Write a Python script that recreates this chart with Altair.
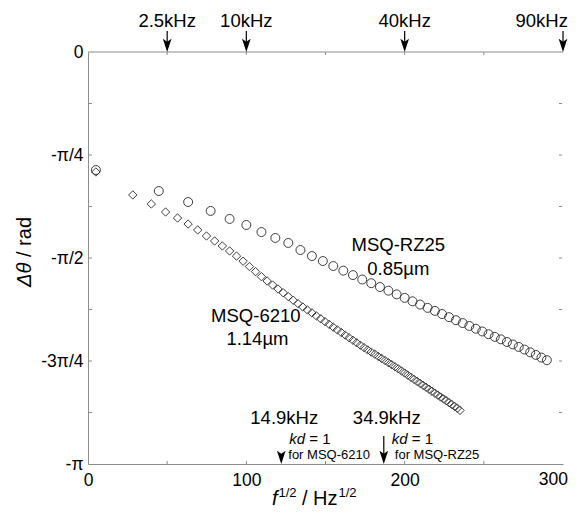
import math
import altair as alt
import pandas as pd

PI = math.pi
FONT = "Liberation Sans"

# ---------------- data ----------------
# MSQ-RZ25 (open circles): frequency in kHz, phase difference in rad
rz25_khz = [0.025, 2, 4, 6, 8, 10, 12, 14, 16, 18, 20, 22, 24, 26, 28, 30, 32, 34, 36, 38, 40,
            42, 44, 46, 48, 50, 52, 54, 56, 58, 60, 62, 64, 66, 68, 70, 72, 74, 76, 78, 80, 82, 84]
rz25_phase = [-0.900, -1.060, -1.144, -1.212, -1.273, -1.319, -1.373, -1.418, -1.456, -1.510, -1.556,
              -1.594, -1.632, -1.667, -1.701, -1.735, -1.763, -1.792, -1.820, -1.848, -1.875,
              -1.901, -1.926, -1.951, -1.974, -1.998, -2.022, -2.045, -2.067, -2.089, -2.110,
              -2.131, -2.152, -2.172, -2.191, -2.211, -2.230, -2.249, -2.269, -2.290, -2.310,
              -2.330, -2.350]

# MSQ-6210 (open diamonds)
m6210_khz = [0.025, 0.8, 1.6, 2.4, 3.2, 4.0, 4.8, 5.6, 6.4, 7.2, 8.0, 8.8, 9.6, 10.4, 11.2, 12.0,
             12.8, 13.6, 14.4, 15.2, 16.0, 16.8, 17.6, 18.4, 19.2, 20.0, 20.8, 21.6, 22.4, 23.2,
             24.0, 24.8, 25.6, 26.4, 27.2, 28.0, 28.8, 29.6, 30.4, 31.2, 32.0, 32.8, 33.6, 34.4,
             35.2, 36.0, 36.8, 37.6, 38.4, 39.2, 40.0, 40.8, 41.6, 42.4, 43.2, 44.0, 44.8, 45.6,
             46.4, 47.2, 48.0, 48.8, 49.6, 50.4, 51.2, 52.0, 52.8, 53.6, 54.4, 55.2]
m6210_phase = [-0.915, -1.090, -1.159, -1.220, -1.266, -1.312, -1.357, -1.403, -1.441, -1.479, -1.517,
               -1.556, -1.595, -1.636, -1.675, -1.713, -1.746, -1.777, -1.807, -1.836, -1.865,
               -1.893, -1.919, -1.944, -1.967, -1.989, -2.012, -2.034, -2.056, -2.077, -2.098,
               -2.119, -2.139, -2.159, -2.179, -2.198, -2.217, -2.236, -2.254, -2.272, -2.288,
               -2.304, -2.321, -2.337, -2.353, -2.369, -2.384, -2.400, -2.416, -2.432, -2.448,
               -2.464, -2.481, -2.496, -2.512, -2.527, -2.542, -2.557, -2.572, -2.587, -2.602,
               -2.616, -2.631, -2.645, -2.659, -2.674, -2.688, -2.702, -2.716, -2.733]

top_khz = [2.5, 10, 40, 90]
top_text = ["2.5kHz", "10kHz", "40kHz", "90kHz"]
kd_khz = [14.9, 34.9]
kd_text = ["14.9kHz", "34.9kHz"]
kd_for = ["for MSQ-6210", "for MSQ-RZ25"]

x_label_values = [0, 100, 200]
x_last_label = [300]
x_minor = [50, 100, 150, 200, 250]
y_label_values = [0, -PI / 4, -PI / 2, -3 * PI / 4, -PI]
y_minor = [-k * PI / 8 for k in range(1, 8)]

# ---------------- frames ----------------
def sqrt_hz(khz):
    return [math.sqrt(v * 1000.0) for v in khz]

df_rz = pd.DataFrame({"x": sqrt_hz(rz25_khz), "y": rz25_phase})
df_62 = pd.DataFrame({"x": sqrt_hz(m6210_khz), "y": m6210_phase})
df_top = pd.DataFrame({"x": sqrt_hz(top_khz), "t": top_text})
df_kd = pd.DataFrame({"x": sqrt_hz(kd_khz), "t": kd_text, "f": kd_for})
df_xm = pd.DataFrame({"x": x_minor})
df_ym = pd.DataFrame({"y": y_minor})
df_x300 = pd.DataFrame({"x": x_last_label, "t": [str(v) for v in x_last_label]})

W, H = 475, 412
xs = alt.Scale(domain=[0, 300], nice=False, zero=False)
ys = alt.Scale(domain=[-PI, 0], nice=False, zero=False)
AX = "#8c8c8c"
ARROW = "M0,1L-0.62,-0.9L0,-0.45L0.62,-0.9Z"
LBL = 17.5

ylab = "['0','-π/4','-π/2','-3π/4','-π'][round(-datum.value*4/PI)]"

circles = alt.Chart(df_rz).mark_point(
    shape="circle", filled=False, size=80, color="#2a2a2a", strokeWidth=0.9, opacity=1
).encode(
    x=alt.X("x:Q", scale=xs, axis=alt.Axis(
        values=x_label_values, title=None, ticks=False, grid=False, domainColor=AX,
        labelFontSize=LBL, labelFont=FONT, labelColor="black", labelPadding=7,
        labelFlush=False, labelOverlap=False)),
    y=alt.Y("y:Q", scale=ys, axis=alt.Axis(
        values=y_label_values, labelExpr=ylab, title=None, ticks=False, grid=False,
        domainColor=AX, labelFontSize=LBL, labelFont=FONT, labelColor="black",
        labelPadding=5, labelFlush=False, labelOverlap=False, labelBound=False)),
)

diamonds = alt.Chart(df_62).mark_point(
    shape="diamond", filled=False, size=70, color="#2a2a2a", strokeWidth=0.9, opacity=1
).encode(x=alt.X("x:Q", scale=xs), y=alt.Y("y:Q", scale=ys))

x300 = alt.Chart(df_x300).mark_text(
    font=FONT, fontSize=LBL, align="right", baseline="top", color="black", dx=5, dy=7
).encode(x=alt.X("x:Q", scale=xs), y=alt.value(H), text="t:N")

# frame pieces: top line and small inward ticks
top_line = alt.Chart(pd.DataFrame({"a": [0]})).mark_rule(color=AX, strokeWidth=1).encode(
    x=alt.datum(0, scale=xs), x2=alt.datum(300), y=alt.value(0))
xt_bottom = alt.Chart(df_xm).mark_rule(color=AX, strokeWidth=1).encode(
    x=alt.X("x:Q", scale=xs), y=alt.value(H - 3), y2=alt.value(H))
xt_top = alt.Chart(df_xm).mark_rule(color=AX, strokeWidth=1).encode(
    x=alt.X("x:Q", scale=xs), y=alt.value(0), y2=alt.value(3))
yt_left = alt.Chart(df_ym).mark_rule(color=AX, strokeWidth=1).encode(
    y=alt.Y("y:Q", scale=ys), x=alt.value(0), x2=alt.value(4))
yt_right = alt.Chart(df_ym).mark_rule(color=AX, strokeWidth=1).encode(
    y=alt.Y("y:Q", scale=ys), x=alt.value(W - 4), x2=alt.value(W - 1))

# top arrows
top_shaft = alt.Chart(df_top).mark_rule(color="black", strokeWidth=1.2).encode(
    x=alt.X("x:Q", scale=xs), y=alt.value(-21), y2=alt.value(-7))
top_head = alt.Chart(df_top).mark_point(
    shape=ARROW, filled=True, size=196, color="black", opacity=1, strokeWidth=0
).encode(x=alt.X("x:Q", scale=xs), y=alt.value(-7))
top_lab = alt.Chart(df_top).transform_filter("datum.x < 290").mark_text(
    font=FONT, fontSize=18.5, align="center", baseline="middle", color="black"
).encode(x=alt.X("x:Q", scale=xs), y=alt.value(-31), text="t:N")
top_lab_last = alt.Chart(df_top).transform_filter("datum.x >= 290").mark_text(
    font=FONT, fontSize=18.5, align="right", baseline="middle", color="black", dx=5
).encode(x=alt.X("x:Q", scale=xs), y=alt.value(-31), text="t:N")

# bottom (kd = 1) arrows
bot_shaft = alt.Chart(df_kd).transform_filter("datum.x > 150").mark_rule(
    color="black", strokeWidth=1.2).encode(
    x=alt.X("x:Q", scale=xs), y=alt.value(H - 28), y2=alt.value(H - 7))
bot_head = alt.Chart(df_kd).mark_point(
    shape=ARROW, filled=True, size=196, color="black", opacity=1, strokeWidth=0
).encode(x=alt.X("x:Q", scale=xs), y=alt.value(H - 7))
bot_khz = alt.Chart(df_kd).mark_text(
    font=FONT, fontSize=18.5, align="center", baseline="middle", color="black", dx=3
).encode(x=alt.X("x:Q", scale=xs), y=alt.value(366), text="t:N")
kd_it = alt.Chart(df_kd).mark_text(
    font=FONT, fontSize=15, fontStyle="italic", align="left", baseline="middle",
    color="black", dx=8
).encode(x=alt.X("x:Q", scale=xs), y=alt.value(387), text=alt.value("kd"))
kd_eq = alt.Chart(df_kd).mark_text(
    font=FONT, fontSize=15, align="left", baseline="middle", color="black", dx=28
).encode(x=alt.X("x:Q", scale=xs), y=alt.value(387), text=alt.value("= 1"))
for_a = alt.Chart(df_kd).transform_filter("datum.x < 150").mark_text(
    font=FONT, fontSize=13, align="left", baseline="middle", color="black", dx=7
).encode(x=alt.X("x:Q", scale=xs), y=alt.value(403), text="f:N")
for_b = alt.Chart(df_kd).transform_filter("datum.x >= 150").mark_text(
    font=FONT, fontSize=13, align="left", baseline="middle", color="black", dx=11
).encode(x=alt.X("x:Q", scale=xs), y=alt.value(403), text="f:N")

# series labels
df_names = pd.DataFrame({
    "x": [196, 196, 106, 107],
    "y": [-1.472, -1.655, -2.013, -2.188],
    "t": ["MSQ-RZ25", "0.85µm", "MSQ-6210", "1.14µm"],
})
names = alt.Chart(df_names).mark_text(
    font=FONT, fontSize=18.5, align="center", baseline="middle", color="black"
).encode(x=alt.X("x:Q", scale=xs), y=alt.Y("y:Q", scale=ys), text="t:N")

# axis titles (with italics / superscripts)
def txt(s, x, y, size, style="normal", angle=0, align="left", baseline="alphabetic"):
    kw = dict(font=FONT, fontSize=size, fontStyle=style, align=align,
              baseline=baseline, color="black")
    if angle:
        kw["angle"] = angle
    return alt.Chart(pd.DataFrame({"a": [0]})).mark_text(**kw).encode(
        x=alt.value(x), y=alt.value(y), text=alt.value(s))

xt1 = txt("f", 184, 453, 20, style="italic")
xt2 = txt("1/2", 190.5, 445, 13)
xt3 = txt("/ Hz", 214, 453, 20)
xt4 = txt("1/2", 250.5, 445, 13)
yt1 = txt("Δθ", -63, 235, 20, style="italic", angle=270, baseline="middle")
yt2 = txt("/ rad", -63, 205, 20, angle=270, baseline="middle")

chart = alt.layer(
    circles, diamonds, x300, top_line, xt_bottom, xt_top, yt_left, yt_right,
    top_shaft, top_head, top_lab, top_lab_last,
    bot_shaft, bot_head, bot_khz, kd_it, kd_eq, for_a, for_b,
    names, xt1, xt2, xt3, xt4, yt1, yt2,
).properties(
    width=W, height=H,
    padding={"left": 80, "top": 44, "right": 5, "bottom": 47},
    autosize=alt.AutoSizeParams(type="none"),
    background="white",
).configure_view(stroke=None)

chart.save("out.html", embed_options={"renderer": "svg", "actions": False})
